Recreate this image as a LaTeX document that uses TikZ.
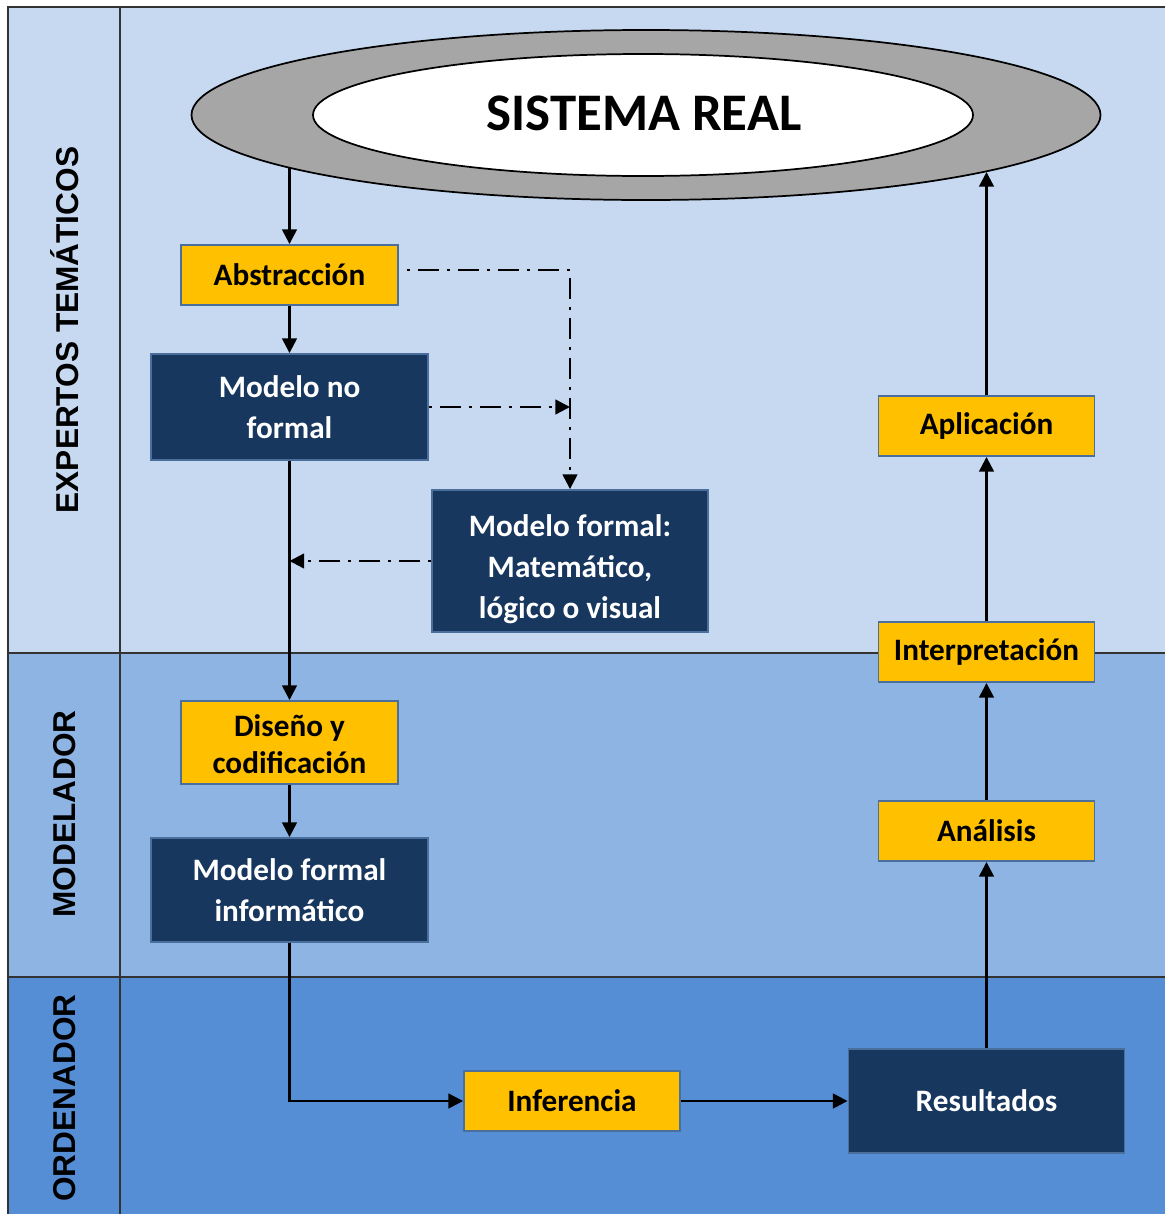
\documentclass[tikz,border=0pt]{standalone}
\usepackage{fontspec}
\setmainfont{Carlito}
\newfontfamily\lanefont{Liberation Sans}
\usetikzlibrary{arrows.meta,calc,shapes.geometric}

\definecolor{laneA}{HTML}{C6D9F1}
\definecolor{laneB}{HTML}{8EB4E3}
\definecolor{laneC}{HTML}{558ED5}
\definecolor{gold}{HTML}{FFC000}
\definecolor{navy}{HTML}{17375E}
\definecolor{boxedge}{HTML}{4A6F9C}
\definecolor{ringgray}{HTML}{A6A6A6}
\definecolor{frameline}{HTML}{333333}

\newcommand\bxfont{\bfseries\fontsize{23.4}{30.75}\selectfont}

\begin{document}
\begin{tikzpicture}[x=0.75pt,y=-0.75pt,
  box/.style={rectangle, draw=boxedge, line width=1.4pt, inner sep=0pt,
    align=center, font=\bxfont},
  ybox/.style={box, fill=gold, text=black},
  dbox/.style={box, fill=navy, text=white},
  flow/.style={line width=1.8pt, -{Triangle[length=11pt,width=11pt]}},
  dd/.style={flow, dash pattern=on 2pt off 6pt on 16pt off 6pt},
  lanelabel/.style={rotate=90, text=black,
    font=\lanefont\bfseries\fontsize{23.7}{23.7}\selectfont},
  laneline/.style={draw=frameline, line width=1.1pt}
]
\useasboundingbox (0,0) rectangle (1165,1214);

% swim lanes
\fill[laneA] (8,7) rectangle (1165,653);
\fill[laneB] (8,653) rectangle (1165,977);
\fill[laneC] (8,977) rectangle (1165,1214);
\draw[laneline] (8,1214) -- (8,7) -- (1165,7);
\draw[laneline] (120,7) -- (120,1214);
\draw[laneline] (8,653) -- (1165,653);
\draw[laneline] (8,977) -- (1165,977);

\node[lanelabel] (lexp) at (65,330) {EXPERTOS TEMÁTICOS};
\node[lanelabel] (lmod) at (65,814) {MODELADOR};
\node[lanelabel] (lord) at (65,1098) {ORDENADOR};

% real system
\draw[fill=ringgray, line width=1.3pt] (646,115) ellipse [x radius=454.5, y radius=85];
\draw[fill=white, line width=1.3pt] (643,115) ellipse [x radius=330, y radius=61];
\node[font=\bfseries\fontsize{39.6}{40}\selectfont] (sr) at (644,113) {SISTEMA REAL};
\coordinate (srL) at (289.5,168);
\coordinate (srR) at (986.5,172);

% boxes
\node[ybox, minimum width=162.75pt, minimum height=45pt] (abs) at (289.5,275) {Abstracción};
\node[dbox, minimum width=207.75pt, minimum height=79.5pt] (mnf) at (289.5,407) {Modelo no\\formal};
\node[dbox, minimum width=207pt, minimum height=106.5pt] (mf) at (570,561) {\rule{0pt}{28pt}Modelo formal:\\Matemático,\\lógico o visual};
\node[ybox, minimum width=162.75pt, minimum height=62.25pt] (dis) at (289.5,742.5) {\rule{0pt}{19pt}Diseño y\\[-3pt]codificación};
\node[dbox, minimum width=207.75pt, minimum height=78pt] (mfi) at (289.5,890) {Modelo formal\\informático};
\node[ybox, minimum width=162pt, minimum height=45pt] (inf) at (572,1101) {Inferencia};
\node[dbox, minimum width=207pt, minimum height=78pt] (res) at (986.5,1101) {Resultados};
\node[ybox, minimum width=162pt, minimum height=45pt] (ana) at (986.5,831) {Análisis};
\node[ybox, minimum width=162pt, minimum height=45pt] (int) at (986.5,652) {Interpretación};
\node[ybox, minimum width=162pt, minimum height=45pt] (apl) at (986.5,426) {Aplicación};

% connectors
\draw[flow] (srL) -- (abs.north);
\draw[flow] (abs.south) -- (mnf.north);
\draw[flow] (mnf.south) -- (dis.north);
\draw[flow] (dis.south) -- (mfi.north);
\draw[flow] (mfi.south) |- (inf.west);
\draw[flow] (inf.east) -- (res.west);
\draw[flow] (res.north) -- (ana.south);
\draw[flow] (ana.north) -- (int.south);
\draw[flow] (int.north) -- (apl.south);
\draw[flow] (apl.north) -- (srR);

\draw[dd] ($(abs.east)+(8,-5)$) -| (mf.north);
\draw[dd] (mnf.east) -- (mnf.east -| mf.north);
\draw[dd] (mf.west) -- (mf.west -| mnf.south);
\end{tikzpicture}
\end{document}
